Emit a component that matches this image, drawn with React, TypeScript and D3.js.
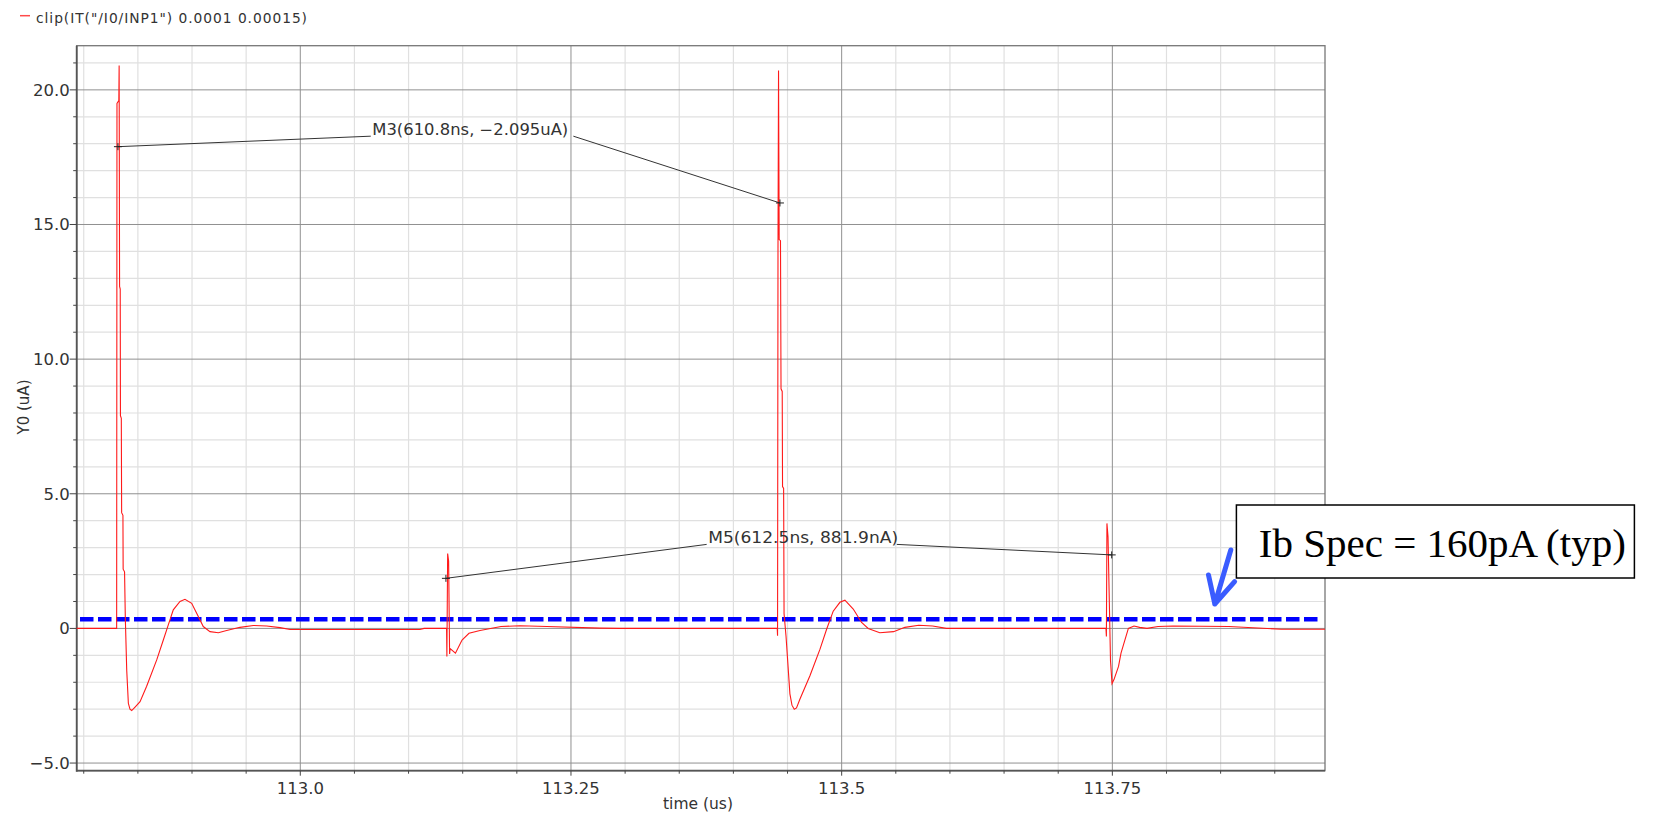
import React, { useEffect } from 'react';
import * as d3 from 'd3';

// ---------------- data ----------------
const X_DOMAIN = [112.7935, 113.9464];
const Y_DOMAIN = [-5.284, 21.64];

const X_TICKS_MAJOR = [113.0, 113.25, 113.5, 113.75];
const X_TICK_LABELS = ['113.0', '113.25', '113.5', '113.75'];
const X_TICKS_MINOR = [
  112.8, 112.85, 112.9, 112.95, 113.05, 113.1, 113.15, 113.2, 113.3, 113.35, 113.4, 113.45,
  113.55, 113.6, 113.65, 113.7, 113.8, 113.85, 113.9,
];
const Y_TICKS_MAJOR = [-5, 0, 5, 10, 15, 20];
const Y_TICK_LABELS = ['\u22125.0', '0', '5.0', '10.0', '15.0', '20.0'];
const Y_TICKS_MINOR = [-4, -3, -2, -1, 1, 2, 3, 4, 6, 7, 8, 9, 11, 12, 13, 14, 16, 17, 18, 19, 21];

const LEGEND_LABEL = 'clip(IT("/I0/INP1") 0.0001 0.00015)';
const X_TITLE = 'time (us)';
const Y_TITLE = 'Y0 (uA)';

// waveform (time in us, current in uA)
const EVENT_1: [number, number][] = [
  [112.7935, 0], [112.8304, 0], [112.8307, 19.5], [112.8324, 19.6], [112.8327, 20.9],
  [112.8331, 12.7], [112.8337, 12.6], [112.8339, 7.9], [112.8347, 7.8], [112.835, 4.3],
  [112.8362, 4.2], [112.8364, 2.2], [112.8377, 2.1], [112.8384, 0.4], [112.8397, -1.55],
  [112.8412, -2.78], [112.8427, -3.0], [112.8443, -3.05], [112.8474, -2.92], [112.852, -2.72],
  [112.8581, -2.15], [112.8674, -1.17],
  [112.8735, -0.43], [112.8781, 0.13], [112.8827, 0.69], [112.8889, 1.0], [112.8935, 1.08],
  [112.8997, 0.93], [112.9058, 0.44], [112.9104, 0.07], [112.9166, -0.12], [112.9243, -0.16],
  [112.932, -0.08], [112.9443, 0.04], [112.9566, 0.11], [112.969, 0.09], [112.9813, 0.03],
  [112.9905, -0.04], [113.1106, -0.04], [113.1143, 0],
];
const EVENT_2: [number, number][] = [
  [113.1351, 0], [113.1354, -1.04], [113.1361, 2.78], [113.137, 2.5], [113.1379, -0.95],
  [113.1384, -0.75], [113.1433, -0.92], [113.1494, -0.43], [113.1558, -0.18], [113.166, -0.08],
  [113.1854, 0.07], [113.203, 0.1], [113.2278, 0.07], [113.2768, 0.01], [113.2952, 0],
  [113.4389, 0],
];
const EVENT_3: [number, number][] = [
  [113.4405, 0], [113.4408, -0.27], [113.4412, 14.1], [113.4417, 20.72], [113.4423, 14.44],
  [113.4435, 14.4], [113.444, 8.9], [113.4451, 8.8], [113.4454, 5.27], [113.4464, 5.2],
  [113.4468, 0.55], [113.4486, -0.28], [113.4522, -2.43], [113.4541, -2.85], [113.4562, -3.0],
  [113.4583, -2.95], [113.4615, -2.62],
  [113.4707, -1.76], [113.48, -0.77], [113.4861, -0.03], [113.4922, 0.64], [113.4984, 0.97],
  [113.503, 1.05], [113.5107, 0.72], [113.5184, 0.22], [113.5245, 0], [113.5352, -0.16],
  [113.5479, -0.12], [113.5584, 0.04], [113.5712, 0.12], [113.584, 0.09], [113.5967, 0],
  [113.7432, 0],
];
const EVENT_4: [number, number][] = [
  [113.7441, 0], [113.7445, -0.3], [113.745, 3.9], [113.746, 3.4], [113.7483, -1.2],
  [113.7497, -2.05], [113.7515, -1.9], [113.7557, -1.41], [113.758, -0.92], [113.7648, 0],
  [113.77, 0.09], [113.7752, 0.04], [113.782, 0], [113.7922, 0.07], [113.806, 0.09],
  [113.8577, 0.07], [113.9058, -0.03], [113.9464, -0.03],
];

// markers
const M3_POINTS: [number, number][] = [[112.8316, 17.89], [113.443, 15.8]];
const M3_LABEL = 'M3(610.8ns, \u22122.095uA)';
const M3_LABEL_SPAN: [number, number, number] = [113.0651, 113.2522, 18.28]; // t start, t end, level
const M5_POINTS: [number, number][] = [[113.1345, 1.86], [113.7494, 2.73]];
const M5_LABEL = 'M5(612.5ns, 881.9nA)';
const M5_LABEL_SPAN: [number, number, number] = [113.3753, 113.5509, 3.12];

const SPEC_LEVEL_UA = 0.34;
const SPEC_TEXT = 'Ib Spec = 160pA (typ)';

// ---------------- layout ----------------
const W = 1664;
const H = 814;
const PL = 76.7;
const PR = 1325;
const PT = 45.7;
const PB = 770.7;
const FONT = 'DejaVu Sans, Verdana, sans-serif';

export default function App() {
  useEffect(() => {
    document.body.style.margin = '0';
  }, []);

  const x = d3.scaleLinear().domain(X_DOMAIN).range([PL, PR]);
  const y = d3.scaleLinear().domain(Y_DOMAIN).range([PB, PT]);
  const line = d3
    .line<[number, number]>()
    .x((d) => x(d[0]))
    .y((d) => y(d[1]));
  const wave = [...EVENT_1, ...EVENT_2, ...EVENT_3, ...EVENT_4];

  const marker = (p: [number, number], key: string) => {
    const cx = x(p[0]);
    const cy = y(p[1]);
    return (
      <path
        key={key}
        d={`M${cx - 4},${cy}H${cx + 4}M${cx},${cy - 3.5}V${cy + 3.5}`}
        stroke="#222"
        strokeWidth={1}
        fill="none"
      />
    );
  };

  const markerGroup = (
    pts: [number, number][],
    span: [number, number, number],
    label: string,
    textLen: number,
    k: string
  ) => {
    const lx0 = x(span[0]);
    const lx1 = x(span[1]);
    const ly = y(span[2]);
    return (
      <g key={k}>
        <path
          d={`M${x(pts[0][0])},${y(pts[0][1])}L${lx0},${ly}M${lx1},${ly}L${x(pts[1][0])},${y(pts[1][1])}`}
          stroke="#333"
          strokeWidth={1}
          fill="none"
        />
        {pts.map((p, i) => marker(p, k + i))}
        <text
          x={lx0 + 1.5}
          y={ly - 1.5}
          fontFamily={FONT}
          fontSize={15.5}
          fill="#333"
          textLength={textLen}
          lengthAdjust="spacingAndGlyphs"
        >
          {label}
        </text>
      </g>
    );
  };

  return (
    <svg
      width={W}
      height={H}
      style={{ position: 'absolute', left: 0, top: 0, background: '#fff' }}
    >
      <rect x={0} y={0} width={W} height={H} fill="#fff" />
      {/* legend */}
      <line x1={20} x2={30} y1={15.7} y2={15.7} stroke="#ff4a4a" strokeWidth={1.5} />
      <text x={36} y={23} fontFamily={FONT} fontSize={13.8} fill="#333" textLength={271} lengthAdjust="spacing">
        {LEGEND_LABEL}
      </text>

      {/* minor grid */}
      {X_TICKS_MINOR.map((t) => (
        <line key={'xm' + t} x1={x(t)} x2={x(t)} y1={PT} y2={PB} stroke="#e0e0e0" strokeWidth={1.2} />
      ))}
      {Y_TICKS_MINOR.map((v) => (
        <line key={'ym' + v} x1={PL} x2={PR} y1={y(v)} y2={y(v)} stroke="#e0e0e0" strokeWidth={1.2} />
      ))}
      {/* major grid */}
      {X_TICKS_MAJOR.map((t) => (
        <line key={'xM' + t} x1={x(t)} x2={x(t)} y1={PT} y2={PB} stroke="#909090" strokeWidth={1} />
      ))}
      {Y_TICKS_MAJOR.map((v) => (
        <line key={'yM' + v} x1={PL} x2={PR} y1={y(v)} y2={y(v)} stroke="#909090" strokeWidth={1} />
      ))}

      {/* frame */}
      <rect x={PL} y={PT} width={PR - PL} height={PB - PT} fill="none" stroke="#777" strokeWidth={1.3} />
      <line x1={PL} x2={PL} y1={PT} y2={PB + 1} stroke="#555" strokeWidth={1.8} />
      <line x1={PL} x2={PR} y1={PB} y2={PB} stroke="#555" strokeWidth={1.8} />

      {/* ticks */}
      {X_TICKS_MINOR.map((t) => (
        <line key={'xt' + t} x1={x(t)} x2={x(t)} y1={PB} y2={PB + 3} stroke="#444" strokeWidth={1} />
      ))}
      {X_TICKS_MAJOR.map((t) => (
        <line key={'xT' + t} x1={x(t)} x2={x(t)} y1={PB} y2={PB + 5} stroke="#444" strokeWidth={1} />
      ))}
      {Y_TICKS_MINOR.map((v) => (
        <line key={'yt' + v} x1={PL - 3.5} x2={PL} y1={y(v)} y2={y(v)} stroke="#444" strokeWidth={1} />
      ))}
      {Y_TICKS_MAJOR.map((v) => (
        <line key={'yT' + v} x1={PL - 7} x2={PL} y1={y(v)} y2={y(v)} stroke="#444" strokeWidth={1} />
      ))}

      {/* tick labels */}
      {X_TICKS_MAJOR.map((t, i) => (
        <text key={'xl' + t} x={x(t)} y={794} textAnchor="middle" fontFamily={FONT} fontSize={16.5} fill="#333">
          {X_TICK_LABELS[i]}
        </text>
      ))}
      {Y_TICKS_MAJOR.map((v, i) => (
        <text key={'yl' + v} x={PL - 7} y={y(v) + 6} textAnchor="end" fontFamily={FONT} fontSize={16.5} fill="#333">
          {Y_TICK_LABELS[i]}
        </text>
      ))}

      {/* axis titles */}
      <text x={698} y={809} textAnchor="middle" fontFamily={FONT} fontSize={15.5} fill="#333">
        {X_TITLE}
      </text>
      <text
        transform={`translate(29,407) rotate(-90)`}
        textAnchor="middle"
        fontFamily={FONT}
        fontSize={15}
        fill="#333"
      >
        {Y_TITLE}
      </text>

      {/* spec line */}
      <line
        x1={PL + 3.3}
        x2={PR - 6}
        y1={y(SPEC_LEVEL_UA)}
        y2={y(SPEC_LEVEL_UA)}
        stroke="#0000ff"
        strokeWidth={4.5}
        strokeDasharray="13.5,4.5"
      />

      {/* waveform */}
      <path d={line(wave) || ''} fill="none" stroke="#ff1a1a" strokeWidth={1.1} />

      {/* markers */}
      {markerGroup(M3_POINTS, M3_LABEL_SPAN, M3_LABEL, 196, 'm3')}
      {markerGroup(M5_POINTS, M5_LABEL_SPAN, M5_LABEL, 190, 'm5')}

      {/* annotation */}
      <rect x={1236.4} y={505} width={398} height={73} fill="#fff" stroke="#000" strokeWidth={1.5} />
      <text x={1258.8} y={557.3} fontFamily="Liberation Serif, Times New Roman, serif" fontSize={41} fill="#000">
        {SPEC_TEXT}
      </text>
      <path
        d="M1230.8,550 L1214.8,604 M1208.5,575 L1214.8,604 L1234.6,581.7"
        fill="none"
        stroke="#3a5cff"
        strokeWidth={5}
        strokeLinecap="round"
        strokeLinejoin="round"
      />
    </svg>
  );
}
